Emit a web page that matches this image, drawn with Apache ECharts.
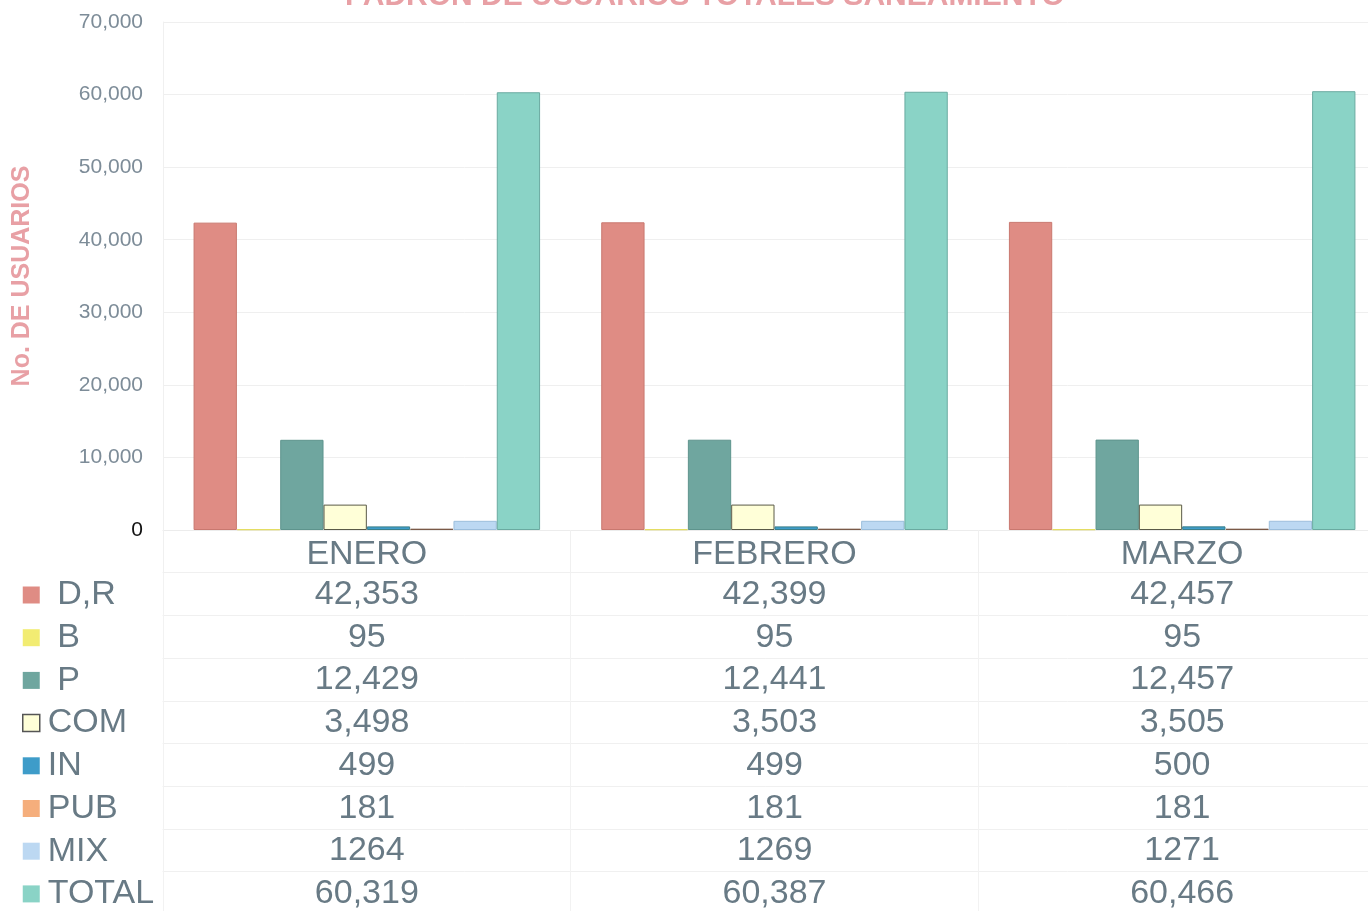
<!DOCTYPE html>
<html>
<head>
<meta charset="utf-8">
<script src="https://cdn.jsdelivr.net/npm/echarts@6/dist/echarts.min.js"></script>
<style>html,body{margin:0;padding:0;background:#fff;}#c{width:1368px;height:911px;}</style>
</head>
<body>
<div id="c"></div>
<script>
const categories = ['ENERO', 'FEBRERO', 'MARZO'];
const seriesNames = ['D,R', 'B', 'P', 'COM', 'IN', 'PUB', 'MIX', 'TOTAL'];
const dr = [42353, 42399, 42457];
const b = [95, 95, 95];
const p = [12429, 12441, 12457];
const com = [3498, 3503, 3505];
const ind = [499, 499, 500];
const pub = [181, 181, 181];
const mix = [1264, 1269, 1271];
const total = [60319, 60387, 60466];
const yTicks = [0, 10000, 20000, 30000, 40000, 50000, 60000, 70000];

const values = [dr, b, p, com, ind, pub, mix, total];
const colors = ['#DF8C84', '#F2EC72', '#6FA69F', '#FFFFD8', '#3E9CC9', '#F5AE7C', '#BCD8F2', '#8AD3C6'];
const borders = ['#C9786F', '#E4DC60', '#5E948D', '#5a5a48', '#3a7f8a', '#7a5a48', '#9cbedc', '#6aaaa0'];
const txt = '#687a85';
const font = 'Liberation Sans, Arial, sans-serif';
const rowH = 42.7;

function fmt(v, name) {
  return name === 'MIX' ? String(v) : v.toLocaleString('en-US');
}

const xAxes = [{
  type: 'category', data: categories, gridIndex: 0, position: 'bottom',
  axisLine: {show: true, lineStyle: {color: '#ececec', width: 1}},
  axisTick: {show: true, interval: 0, length: rowH, lineStyle: {color: '#f0f0f0'}},
  axisLabel: {interval: 0, fontSize: 34, color: txt, fontFamily: font, margin: 8, lineHeight: 34},
  splitLine: {show: false}
}];
seriesNames.forEach((n, k) => {
  xAxes.push({
    type: 'category', data: categories, gridIndex: 0, position: 'bottom',
    offset: rowH * (k + 1),
    axisLine: {show: true, lineStyle: {color: '#f0f0f0', width: 1}},
    axisTick: {show: true, interval: 0, length: rowH, lineStyle: {color: '#f2f2f2'}},
    axisLabel: {interval: 0, fontSize: 34, color: txt, fontFamily: font, margin: 5, lineHeight: 34,
      formatter: (val, idx) => fmt(values[k][idx], n)},
    splitLine: {show: false}
  });
});

const series = seriesNames.map((n, k) => ({
  name: n, type: 'bar', xAxisIndex: 0, data: values[k],
  barGap: '0%', barCategoryGap: '15%',
  itemStyle: {color: colors[k], borderColor: borders[k], borderWidth: 1},
  emphasis: {disabled: true}
}));

const chart = echarts.init(document.getElementById('c'));
chart.setOption({
  backgroundColor: '#fff',
  animation: false,
  title: {
    text: 'PADRON DE USUARIOS TOTALES SANEAMIENTO',
    left: 340, top: -23,
    textStyle: {color: '#E8A0A5', fontSize: 30, fontWeight: 'bold', fontFamily: font}
  },
  legend: {
    orient: 'vertical', left: 22, top: 578, selectedMode: false, padding: 0, height: 420,
    itemWidth: 17, itemHeight: 17, itemGap: rowH - 34,
    textStyle: {fontSize: 34, lineHeight: 34, color: txt, fontFamily: font, padding: [0, 0, 0, 3]},
    formatter: (name) => (['D,R', 'B', 'P'].includes(name) ? ' ' + name : name),
    data: seriesNames.map((n, k) => ({
      name: n, icon: 'rect',
      itemStyle: n === 'COM' ? {color: colors[k], borderColor: '#555', borderWidth: 1.5} : {color: colors[k], borderWidth: 0}
    }))
  },
  grid: {left: 163, width: 1223, top: 22, bottom: 381, containLabel: false, outerBoundsMode: 'none'},
  xAxis: xAxes,
  yAxis: {
    type: 'value', min: 0, max: 70000, interval: 10000,
    name: 'No. DE USUARIOS', nameLocation: 'middle', nameRotate: 90, nameGap: 128,
    nameTextStyle: {color: '#E8A0A5', fontSize: 25, fontWeight: 'bold', fontFamily: font},
    axisLine: {show: true, lineStyle: {color: '#f0f0f0'}},
    axisTick: {show: false},
    axisLabel: {
      fontSize: 21, fontFamily: font, margin: 20,
      color: (v) => (Number(v) === 0 ? '#111' : '#7d8c98'),
      formatter: (v) => yTicks.includes(v) ? v.toLocaleString('en-US') : ''
    },
    splitLine: {show: true, lineStyle: {color: '#efefef'}}
  },
  series: series
});
</script>
</body>
</html>
